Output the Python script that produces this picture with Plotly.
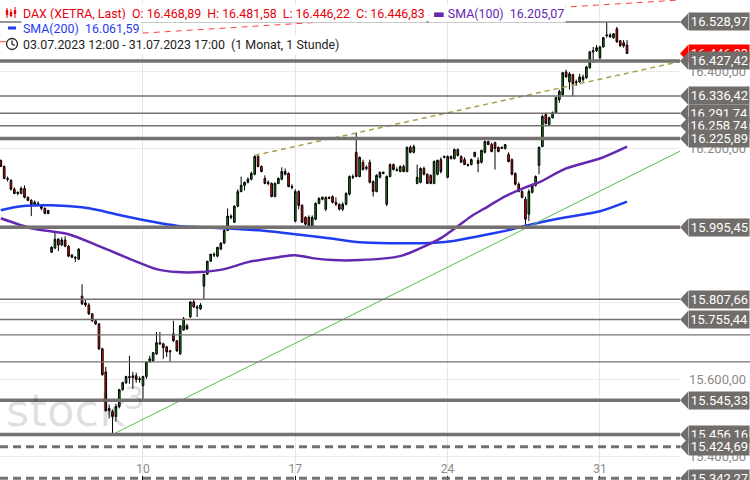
import plotly.graph_objects as go

# ---------------- data (hourly bars, 03.07.2023 12:00 - 31.07.2023 17:00) ----------------
bar_index = list(range(186))

opens = [16169,16153,16122,16117,16094,16083,16083,16096,16073,16065,
         16055,16057,16050,16044,16031,15930,15941,15964,15949,15962,
         15946,15923,15917,15912,15816,15798,15793,15770,15752,15744,
         15679,15619,15524,15516,15503,15529,15573,15591,15607,15604,
         15609,15599,15583,15607,15645,15648,15666,15695,15692,15684,
         15671,15718,15700,15666,15728,15739,15762,15801,15788,15783,
         15842,15873,15907,15925,15920,15938,15954,15987,16024,16008,
         16050,16088,16104,16112,16120,16133,16179,16153,16122,16112,
         16109,16075,16109,16120,16140,16135,16101,16011,16088,16052,
         16021,16021,15998,16016,16057,16068,16042,16070,16075,16060,
         16055,16042,16055,16081,16127,16190,16127,16164,16148,16164,
         16114,16088,16125,16138,16055,16127,16158,16145,16140,16153,
         16140,16203,16190,16109,16112,16148,16133,16130,16109,16133,
         16171,16177,16125,16179,16174,16197,16179,16171,16158,16158,
         16179,16169,16164,16190,16218,16210,16215,16203,16200,16200,
         16184,16171,16135,16107,16088,16068,16029,16086,16104,16156,
         16205,16288,16262,16280,16293,16327,16340,16399,16373,16392,
         16371,16373,16386,16384,16410,16451,16454,16436,16464,16493,
         16495,16488,16511,16480,16475,16468.89]

highs = [16171,16156,16127,16120,16099,16088,16101,16104,16075,16068,
         16065,16063,16052,16047,16039,15946,15982,15967,15969,15972,
         15949,15925,15920,15941,15847,15806,15798,15772,15754,15746,
         15682,15632,15534,15521,15536,15575,15594,15609,15661,15619,
         15617,15607,15609,15645,15661,15671,15723,15723,15695,15687,
         15676,15752,15702,15741,15762,15744,15803,15806,15793,15798,
         15873,15907,15925,15930,15943,15956,15990,16044,16029,16052,
         16094,16127,16114,16125,16140,16182,16184,16156,16130,16117,
         16112,16112,16125,16151,16148,16138,16107,16094,16091,16055,
         16024,16026,16026,16060,16073,16075,16075,16075,16078,16073,
         16057,16060,16086,16130,16133,16241,16179,16171,16156,16171,
         16117,16133,16140,16140,16130,16161,16161,16151,16156,16158,
         16205,16208,16210,16158,16151,16153,16135,16133,16169,16171,
         16177,16182,16182,16182,16200,16200,16182,16177,16161,16174,
         16190,16177,16197,16221,16221,16215,16218,16205,16205,16210,
         16190,16174,16138,16112,16091,16075,16094,16109,16130,16205,
         16288,16293,16283,16296,16335,16353,16399,16405,16399,16394,
         16379,16394,16392,16415,16454,16464,16469,16467,16490,16528.97,
         16500,16500,16516,16482,16482,16481.58]

lows = [16153,16120,16114,16091,16081,16078,16081,16070,16063,16024,
        16052,16052,16039,16029,16029,15928,15938,15933,15946,15943,
        15917,15915,15905,15910,15793,15788,15767,15749,15741,15676,
        15609,15516,15498,15456.16,15490,15524,15570,15588,15588,15575,
        15591,15591,15549,15601,15643,15645,15663,15689,15653,15658,
        15645,15697,15671,15663,15726,15728,15759,15785,15762,15780,
        15809,15871,15905,15917,15917,15936,15951,15985,16016,16006,
        16047,16086,16091,16109,16117,16130,16151,16138,16107,16104,
        16073,16073,16107,16117,16130,16099,16094,16008,16042,16006,
        16000,15995,15995,16013,16055,16065,16037,16068,16057,16050,
        16039,16037,16052,16078,16120,16125,16125,16143,16143,16109,
        16075,16086,16122,16133,16050,16125,16143,16140,16138,16138,
        16138,16187,16187,16107,16109,16130,16107,16107,16107,16130,
        16135,16174,16122,16171,16171,16179,16164,16158,16153,16156,
        16177,16138,16161,16187,16210,16190,16145,16190,16200,16197,
        16164,16130,16104,16086,16070,15995,16011,16083,16101,16133,
        16203,16262,16260,16278,16291,16319,16337,16384,16353,16335,
        16363,16371,16373,16381,16407,16423,16451,16430,16462,16488,
        16488,16485,16475,16464,16462,16446.22]

closes = [16153,16122,16120,16094,16083,16086,16096,16073,16065,16055,
          16060,16055,16044,16031,16039,15943,15964,15949,15962,15946,
          15920,15917,15915,15938,15796,15793,15770,15752,15744,15679,
          15612,15518,15518,15503,15529,15573,15591,15607,15604,15609,
          15599,15601,15607,15645,15653,15669,15695,15692,15682,15671,
          15674,15700,15674,15739,15757,15731,15801,15788,15785,15793,
          15873,15907,15925,15923,15943,15954,15987,16024,16021,16050,
          16088,16104,16112,16120,16135,16179,16153,16140,16109,16109,
          16075,16109,16122,16140,16133,16101,16099,16088,16052,16008,
          16003,15998,16021,16057,16070,16073,16073,16073,16060,16055,
          16042,16055,16083,16127,16125,16127,16177,16145,16151,16112,
          16088,16130,16138,16135,16127,16158,16145,16143,16153,16140,
          16203,16190,16205,16125,16148,16133,16109,16109,16166,16169,
          16140,16179,16179,16174,16197,16182,16164,16158,16156,16171,
          16190,16161,16195,16218,16210,16192,16200,16192,16203,16210,
          16166,16133,16107,16088,16073,16016,16088,16104,16127,16203,
          16283,16265,16280,16293,16332,16348,16397,16386,16394,16368,
          16373,16386,16379,16412,16451,16454,16462,16464,16488,16495,
          16490,16498,16477,16467,16467,16446.83]

day_tick_bars = [42, 87, 132, 177]
day_tick_text = ["10", "17", "24", "31"]
price_ticks = [15400, 15600, 15800, 16000, 16200, 16400]

sma100_bars = [0, 9, 20, 29, 39, 46, 52, 59, 66, 73, 82, 87, 92, 98, 106, 118, 124,
               130, 135, 139, 144, 149, 155, 159, 167, 177, 185]
sma100_vals = [16018.5, 15992.6, 15977.0, 15946.0, 15909.7, 15886.3, 15878.6, 15878.6,
               15886.3, 15904.5, 15917.4, 15922.6, 15914.9, 15909.7, 15909.7, 15920.0,
               15940.8, 15966.7, 15997.8, 16023.7, 16049.6, 16075.5, 16098.8, 16111.8,
               16148.1, 16174.0, 16205.07]

sma200_bars = [0, 6, 15, 24, 29, 34, 41, 49, 53, 66, 79, 87, 97, 106, 115, 124, 133,
               138, 144, 151, 157, 167, 177, 185]
sma200_vals = [16039.2, 16049.6, 16052.2, 16047.0, 16039.2, 16028.9, 16015.9, 16003.0,
               15997.8, 15992.6, 15984.8, 15977.0, 15966.7, 15956.3, 15953.7, 15953.7,
               15958.9, 15966.7, 15977.0, 15990.0, 16003.0, 16021.1, 16036.6, 16061.59]

levels_major = [16427.42, 16225.89, 15995.45, 15545.33, 15456.16]
levels_minor = [16528.97, 16336.42, 16291.74, 16258.74, 15807.66, 15755.44]
levels_dashed = [15424.69, 15342.27]
levels_unlabeled = [15715.3, 15645.2]

green_bars = [33, 200.65]
green_vals = [15456.16, 16193.0]
olive_bars = [75, 200.65]
olive_vals = [16182.0, 16426.0]
red_bars = [-0.24, 200.65]
red_vals = [16477.0, 16586.0]

period_text = "03.07.2023 12:00 - 31.07.2023 17:00  (1 Monat, 1 Stunde)"

# ---------------- styling / geometry ----------------
FIG_W, FIG_H = 750, 480
PLOT_W = 680
X_RANGE = [-0.24, 200.65]
Y_RANGE = [15338.0, 16586.0]
PER_PX = (Y_RANGE[1] - Y_RANGE[0]) / FIG_H
LABEL_BG = "#716d6a"
LINE_COL = "#757170"
RED = "#e8000b"
BLUE = "#1f3cf0"
PURPLE = "#6428b0"
FONT = "Roboto, Liberation Sans, Arial, sans-serif"
WM_FONT = "DejaVu Sans, Verdana, sans-serif"


def de(v):
    s = f"{v:,.2f}"
    return s.replace(",", "#").replace(".", ",").replace("#", ".")


def px(xp):
    return xp / PLOT_W


def py(yp):
    return 1 - yp / FIG_H


fig = go.Figure()

fig.add_trace(go.Candlestick(
    x=bar_index, open=opens, high=highs, low=lows, close=closes,
    increasing=dict(line=dict(color="#000000", width=1), fillcolor="#148a14"),
    decreasing=dict(line=dict(color="#000000", width=1), fillcolor="#ff0000"),
    whiskerwidth=0, showlegend=False, hoverinfo="skip"))

fig.add_trace(go.Scatter(x=sma200_bars, y=sma200_vals, mode="lines",
                         line=dict(color=BLUE, width=2.5, shape="spline", smoothing=0.8),
                         showlegend=False, hoverinfo="skip"))
fig.add_trace(go.Scatter(x=sma100_bars, y=sma100_vals, mode="lines",
                         line=dict(color=PURPLE, width=2.5, shape="spline", smoothing=0.8),
                         showlegend=False, hoverinfo="skip"))
fig.add_trace(go.Scatter(x=green_bars, y=green_vals, mode="lines",
                         line=dict(color="#5cb85c", width=1),
                         showlegend=False, hoverinfo="skip"))
fig.add_trace(go.Scatter(x=olive_bars, y=olive_vals, mode="lines",
                         line=dict(color="#a8a048", width=1.5, dash="5px,4px"),
                         showlegend=False, hoverinfo="skip"))
fig.add_trace(go.Scatter(x=red_bars, y=red_vals, mode="lines",
                         line=dict(color="#ff4040", width=1, dash="6px,5px"),
                         showlegend=False, hoverinfo="skip"))

shapes = []
for lv in levels_minor:
    shapes.append(dict(type="line", xref="paper", yref="y", x0=0, x1=1, y0=lv, y1=lv,
                       line=dict(color=LINE_COL, width=1.5), layer="above"))
for lv in levels_unlabeled:
    shapes.append(dict(type="line", xref="paper", yref="y", x0=0, x1=FIG_W / PLOT_W, y0=lv, y1=lv,
                       line=dict(color=LINE_COL, width=1.2), layer="above"))
for lv in levels_major:
    shapes.append(dict(type="line", xref="paper", yref="y", x0=0, x1=1, y0=lv, y1=lv,
                       line=dict(color=LINE_COL, width=3.5), layer="above"))
for lv in levels_dashed:
    shapes.append(dict(type="line", xref="paper", yref="y", x0=0, x1=1, y0=lv, y1=lv,
                       line=dict(color=LINE_COL, width=3, dash="8px,5px"), layer="above"))

annotations = []
half = 8.5 * PER_PX


def add_label(level, bg):
    shapes.append(dict(type="path", xref="paper", yref="y",
                       path=f"M {px(680)},{level} L {px(688)},{level + half} L {px(688)},{level - half} Z",
                       fillcolor=bg, line=dict(width=0), layer="above"))
    annotations.append(dict(xref="paper", yref="y", x=px(688), y=level, xanchor="left",
                            yanchor="middle", text=de(level), showarrow=False,
                            font=dict(family=FONT, size=13, color="white"),
                            bgcolor=bg, width=58, height=15, align="right", borderpad=1))


add_label(closes[-1], "#ff0000")
for lv in sorted(levels_major + levels_minor + levels_dashed, reverse=True):
    add_label(lv, LABEL_BG)

# watermark
annotations.append(dict(xref="paper", yref="paper", x=px(4), y=py(410), xanchor="left", yanchor="middle",
                        text="stock", showarrow=False,
                        font=dict(family=WM_FONT, size=45, color="rgba(0,0,0,0.13)")))
annotations.append(dict(xref="paper", yref="paper", x=px(122), y=py(398), xanchor="left", yanchor="middle",
                        text="3", showarrow=False,
                        font=dict(family=WM_FONT, size=32, color="rgba(0,0,0,0.13)")))

# legend rows (white boxes hide the lines behind the text, as in the original)
LEG_SIZE = 12.4
row1 = (f"DAX (XETRA, Last)  O: {de(opens[-1])}  H: {de(highs[-1])}  "
        f"L: {de(lows[-1])}  C: {de(closes[-1])}")
annotations.append(dict(xref="paper", yref="paper", x=px(21), y=py(13), xanchor="left", yanchor="middle",
                        text=row1, showarrow=False, bgcolor="white",
                        font=dict(family=FONT, size=LEG_SIZE, color=RED)))
annotations.append(dict(xref="paper", yref="paper", x=px(428), y=py(13), xanchor="left", yanchor="middle",
                        text=f" <span style='font-family:DejaVu Sans'>▬</span> SMA(100)  {de(sma100_vals[-1])}",
                        showarrow=False, bgcolor="white",
                        font=dict(family=FONT, size=LEG_SIZE, color=PURPLE)))
annotations.append(dict(xref="paper", yref="paper", x=px(21), y=py(28), xanchor="left", yanchor="middle",
                        text=f"SMA(200)  {de(sma200_vals[-1])}", showarrow=False, bgcolor="white",
                        font=dict(family=FONT, size=LEG_SIZE, color=BLUE)))
annotations.append(dict(xref="paper", yref="paper", x=px(21), y=py(44), xanchor="left", yanchor="middle",
                        text=period_text, showarrow=False, bgcolor="white",
                        font=dict(family=FONT, size=LEG_SIZE, color="#222222")))

# legend icons left of the texts
shapes.append(dict(type="rect", xref="paper", yref="paper", x0=px(8), x1=px(16), y0=py(29.5), y1=py(26.5),
                   fillcolor=BLUE, line=dict(width=0), layer="above"))
for cx, w0, w1, b0, b1 in [(7, 8, 18, 10, 15), (11, 9, 17, 12, 16), (15, 7, 18, 10, 14)]:
    shapes.append(dict(type="line", xref="paper", yref="paper", x0=px(cx), x1=px(cx), y0=py(w0), y1=py(w1),
                       line=dict(color=RED, width=1), layer="above"))
    shapes.append(dict(type="rect", xref="paper", yref="paper", x0=px(cx - 1.2), x1=px(cx + 1.2),
                       y0=py(b1), y1=py(b0), fillcolor=RED, line=dict(width=0), layer="above"))
shapes.append(dict(type="circle", xref="paper", yref="paper", x0=px(6.5), x1=px(17.5), y0=py(49.5), y1=py(38.5),
                   fillcolor="white", line=dict(color="#222222", width=1.3), layer="above"))
shapes.append(dict(type="path", xref="paper", yref="paper",
                   path=f"M {px(12)},{py(40.5)} L {px(12)},{py(44)} L {px(14.8)},{py(45.5)}",
                   line=dict(color="#222222", width=1.3), layer="above"))

fig.update_layout(
    width=FIG_W, height=FIG_H,
    margin=dict(l=0, r=FIG_W - PLOT_W, t=0, b=0, autoexpand=False),
    paper_bgcolor="white", plot_bgcolor="white",
    showlegend=False,
    shapes=shapes, annotations=annotations,
    xaxis=dict(range=X_RANGE, rangeslider=dict(visible=False), showgrid=True, gridcolor="#e6e6e6",
               gridwidth=1, tickmode="array", tickvals=day_tick_bars, ticktext=day_tick_text,
               ticks="inside", ticklen=4, tickcolor="#000000", ticklabelposition="inside",
               tickfont=dict(family=FONT, size=12, color="#8a8a8a"), zeroline=False, showline=False,
               automargin=False),
    yaxis=dict(range=Y_RANGE, side="right", showgrid=True, gridcolor="#ebebeb", gridwidth=1,
               tickmode="array", tickvals=price_ticks, ticktext=[de(v) for v in price_ticks],
               ticks="", tickfont=dict(family=FONT, size=13, color="#8a8a8a"),
               ticklabelstandoff=8, zeroline=False, showline=False, automargin=False),
)

fig.write_html("out.html", config={"displayModeBar": False},
               post_script="document.body.style.margin='0px';")
